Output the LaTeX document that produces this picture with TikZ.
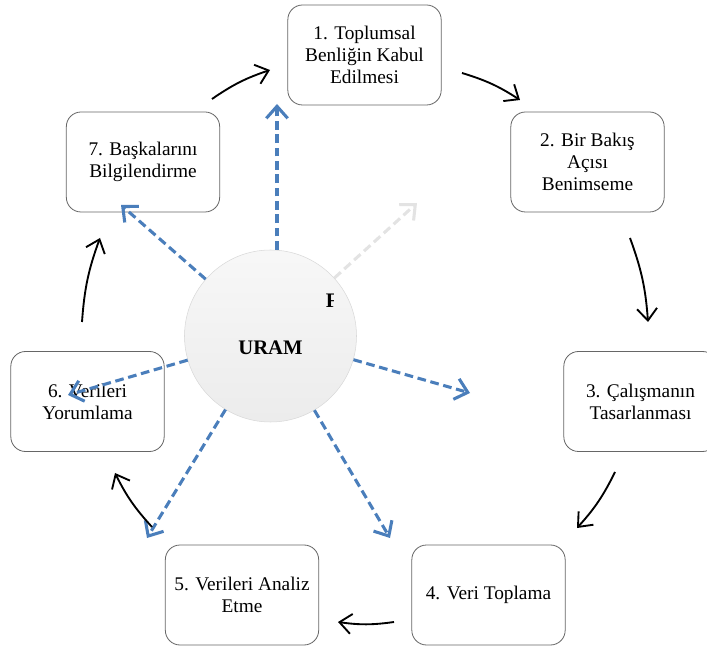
\documentclass[tikz,border=0pt]{standalone}
\usepackage{fontspec}
\setmainfont{Liberation Serif}
\usetikzlibrary{arrows.meta}
\definecolor{spokeblue}{HTML}{4A7EBB}
\tikzset{
    stage box/.style={draw=black!60, fill=white, line width=0.6pt, rounded corners=11pt,
        minimum width=115pt, minimum height=75pt, align=center,
        font=\fontsize{14.5}{16.5}\selectfont},
    cycle arrow/.style={-{Straight Barb[length=9pt,width=15pt,line width=1.4pt]}, line width=1.4pt},
    spoke arrow/.style={dash pattern=on 6.5pt off 3.5pt, line width=2.3pt, color=spokeblue,
        -{Straight Barb[length=9pt,width=16pt]}},
    hub text/.style={font=\fontsize{15.5}{17}\selectfont\bfseries, inner sep=0pt},
}

\begin{document}
\begin{tikzpicture}[x=0.75pt, y=-0.75pt]
\clip (0,0) rectangle (707,648);
% stages
\node[stage box] (s1) at (364.5,55) {1. Toplumsal\\Benliğin Kabul\\Edilmesi};
\node[stage box] (s2) at (587.5,162) {2. Bir Bakış\\Açısı\\Benimseme};
\node[stage box] (s3) at (640.5,401.5) {3. Çalışmanın\\Tasarlanması};
\node[stage box] (s4) at (488.5,595) {4. Veri Toplama};
\node[stage box] (s5) at (242,595) {5. Verileri Analiz\\Etme};
\node[stage box] (s6) at (87.5,401.5) {6. Verileri\\Yorumlama};
\node[stage box] (s7) at (143,162) {7. Başkalarını\\Bilgilendirme};
% hub
\node[circle, draw=gray!30, top color=gray!6, bottom color=gray!15, minimum size=129pt, inner sep=0pt] (uram) at (270.5,336) {};
\node[hub text] (uramtext) at (270.5,347.5) {URAM};
\begin{scope}
\clip (318,288) rectangle (333,314);
\node[hub text, anchor=west] (ftext) at (325.5,300.5) {F};
\end{scope}
% spoke tips
\coordinate (tipU) at (277,104);
\coordinate (tipUL) at (121,205);
\coordinate (tipUR) at (417,203);
\coordinate (tipR) at (470,393);
\coordinate (tipDR) at (390,538);
\coordinate (tipDL) at (147,538);
\coordinate (tipL) at (68,395);
\draw[spoke arrow] (tipU |- uram.north) -- (tipU);
\draw[spoke arrow] (uram) -- (tipUL);
\draw[spoke arrow, color=gray!22] (uram) -- (tipUR);
\draw[spoke arrow] (uram) -- (tipR);
\draw[spoke arrow] (uram) -- (tipDR);
\draw[spoke arrow] (uram) -- (tipDL);
\draw[spoke arrow] (uram) -- (tipL);
% cycle arrows
\coordinate (a12) at (462,73);  \coordinate (b12) at (520,100);
\coordinate (a23) at (630,238); \coordinate (b23) at (648,322);
\coordinate (a34) at (615,472); \coordinate (b34) at (577,528);
\coordinate (a45) at (394,622); \coordinate (b45) at (338,622);
\coordinate (a56) at (152,527); \coordinate (b56) at (115,473);
\coordinate (a67) at (82,322);  \coordinate (b67) at (100,238);
\coordinate (a71) at (212,99);  \coordinate (b71) at (270,70);
\foreach \from/\to in {a12/b12, a23/b23, a34/b34, a45/b45, a56/b56, a67/b67, a71/b71}
    \draw[cycle arrow] (\from) to[bend left=8] (\to);
\end{tikzpicture}
\end{document}
